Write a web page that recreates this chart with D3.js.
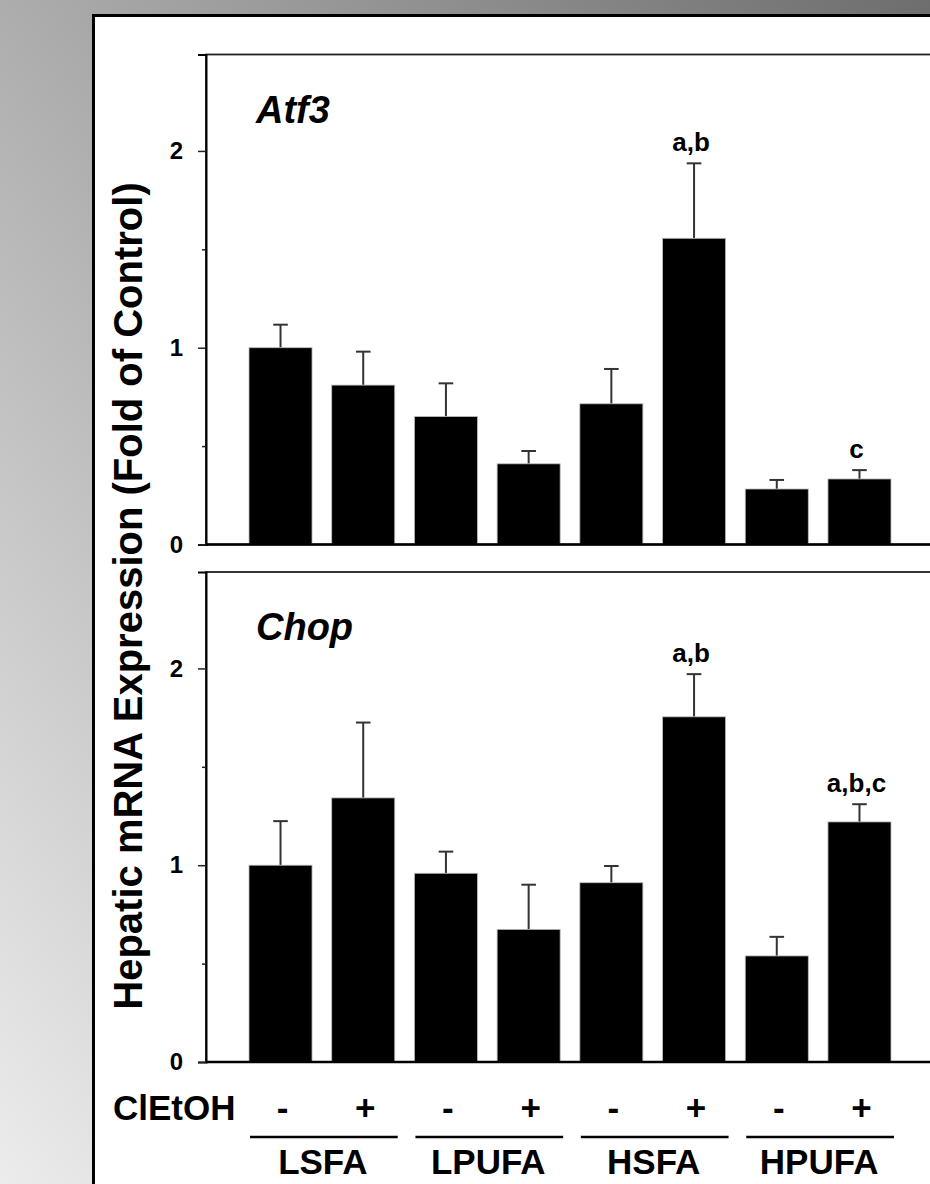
<!DOCTYPE html>
<html>
<head>
<meta charset="utf-8">
<script src="https://cdn.jsdelivr.net/npm/d3@7"></script>
<style>
  body { margin: 0; }
  svg { display: block; font-family: Arial, "Liberation Sans", sans-serif; font-weight: bold; }
</style>
</head>
<body>
<div id="chart"></div>
<script>
// groups along x, one bar per diet x treatment
const dietGroups = ['LSFA', 'LPUFA', 'HSFA', 'HPUFA'];
const treatments = ['-', '+'];
const barKeys = ['LSFA-', 'LSFA+', 'LPUFA-', 'LPUFA+', 'HSFA-', 'HSFA+', 'HPUFA-', 'HPUFA+'];

// Atf3 (fold of control), mean and upper SEM
const atf3Mean = [1.00, 0.81, 0.65, 0.41, 0.715, 1.556, 0.282, 0.333];
const atf3Err = [0.117, 0.17, 0.169, 0.065, 0.177, 0.381, 0.046, 0.045];
const atf3Sig = ['', '', '', '', '', 'a,b', '', 'c'];

// Chop (fold of control)
const chopMean = [1.00, 1.342, 0.959, 0.674, 0.911, 1.754, 0.539, 1.22];
const chopErr = [0.224, 0.383, 0.11, 0.227, 0.085, 0.217, 0.097, 0.09];
const chopSig = ['', '', '', '', '', 'a,b', '', 'a,b,c'];

const majorTicks = [0, 1, 2];
const minorTicks = [0.5, 1.5];
const yMax = 2.49;

const width = 930;
const height = 1184;
const plotLeft = 206;
const plotRight = 934;
const panelHeight = 490;
const capHalf = 7.3;

const svg = d3.select('#chart')
              .append('svg')
              .attr('width', width)
              .attr('height', height);

// grey backdrop, lighter toward bottom-left
const grad = svg.append('defs')
                .append('linearGradient')
                .attr('id', 'bg')
                .attr('x1', 0).attr('y1', 1)
                .attr('x2', 1).attr('y2', 0);
grad.append('stop').attr('offset', '0%').attr('stop-color', '#ececec');
grad.append('stop').attr('offset', '100%').attr('stop-color', '#6e6e6e');

svg.append('rect')
   .attr('width', width)
   .attr('height', height)
   .attr('fill', 'url(#bg)');

svg.append('rect')
   .attr('x', 93.5)
   .attr('y', 15.5)
   .attr('width', 900)
   .attr('height', 1200)
   .attr('fill', '#fff')
   .attr('stroke', '#000')
   .attr('stroke-width', 3);

const x = d3.scaleBand()
            .domain(barKeys)
            .range([plotLeft, plotRight])
            .paddingInner(0.238)
            .paddingOuter(0.52);

function drawPanel(top, title, means, errs, sigs) {
  const y = d3.scaleLinear()
              .domain([0, yMax])
              .range([top + panelHeight, top]);

  const g = svg.append('g');

  // frame
  g.append('rect')
   .attr('x', plotLeft)
   .attr('y', top)
   .attr('width', plotRight - plotLeft)
   .attr('height', panelHeight)
   .attr('fill', 'none')
   .attr('stroke', '#222')
   .attr('stroke-width', 1.8);

  const items = barKeys.map((k, i) => ({ key: k, mean: means[i], err: errs[i], sig: sigs[i] }));

  // error bars (upper only)
  g.append('g')
   .selectAll('line')
   .data(items)
   .enter()
   .append('line')
   .attr('x1', d => x(d.key) + x.bandwidth() / 2)
   .attr('x2', d => x(d.key) + x.bandwidth() / 2)
   .attr('y1', d => y(d.mean))
   .attr('y2', d => y(d.mean + d.err))
   .attr('stroke', '#333')
   .attr('stroke-width', 2);

  g.append('g')
   .selectAll('line')
   .data(items)
   .enter()
   .append('line')
   .attr('x1', d => x(d.key) + x.bandwidth() / 2 - capHalf)
   .attr('x2', d => x(d.key) + x.bandwidth() / 2 + capHalf)
   .attr('y1', d => y(d.mean + d.err))
   .attr('y2', d => y(d.mean + d.err))
   .attr('stroke', '#333')
   .attr('stroke-width', 2);

  g.append('g')
   .selectAll('rect')
   .data(items)
   .enter()
   .append('rect')
   .attr('x', d => x(d.key))
   .attr('y', d => y(d.mean))
   .attr('width', x.bandwidth())
   .attr('height', d => y(0) - y(d.mean))
   .attr('fill', '#000')
   .attr('stroke', '#bbb')
   .attr('stroke-width', 0.8);

  // baseline
  g.append('line')
   .attr('x1', plotLeft)
   .attr('x2', plotRight)
   .attr('y1', y(0))
   .attr('y2', y(0))
   .attr('stroke', '#000')
   .attr('stroke-width', 2.5);

  g.append('g')
   .selectAll('text')
   .data(items.filter(d => d.sig))
   .enter()
   .append('text')
   .text(d => d.sig)
   .attr('x', d => x(d.key) + x.bandwidth() / 2 - 3)
   .attr('y', d => y(d.mean + d.err) - 12)
   .attr('text-anchor', 'middle')
   .attr('font-size', 26);

  const axisMajor = d3.axisLeft(y)
                      .tickValues(majorTicks)
                      .tickFormat(d3.format('d'))
                      .tickSize(8)
                      .tickPadding(15);
  const axisMinor = d3.axisLeft(y)
                      .tickValues(minorTicks)
                      .tickFormat('')
                      .tickSize(4);

  const ax = g.append('g')
              .attr('transform', `translate(${plotLeft},0)`)
              .call(axisMajor);
  ax.select('.domain')
    .attr('stroke', '#000')
    .attr('stroke-width', 2);
  ax.selectAll('.tick line').attr('stroke', '#222').attr('stroke-width', 1.5);
  ax.selectAll('text')
    .attr('font-family', 'Arial, "Liberation Sans", sans-serif')
    .attr('font-weight', 'bold')
    .attr('font-size', 24)
    .attr('fill', '#000');

  const axm = g.append('g')
               .attr('transform', `translate(${plotLeft},0)`)
               .call(axisMinor);
  axm.select('.domain').remove();
  axm.selectAll('.tick line').attr('stroke', '#222').attr('stroke-width', 1.5);

  g.append('text')
   .text(title)
   .attr('x', 256)
   .attr('y', top + 68)
   .attr('font-size', 38)
   .attr('font-style', 'italic');

  return y;
}

drawPanel(54.5, 'Atf3', atf3Mean, atf3Err, atf3Sig);
drawPanel(572, 'Chop', chopMean, chopErr, chopSig);

// y title
svg.append('text')
   .text('Hepatic mRNA Expression (Fold of Control)')
   .attr('transform', 'translate(142,596) rotate(-90)')
   .attr('text-anchor', 'middle')
   .attr('font-size', 40);

// treatment row
svg.append('text')
   .text('ClEtOH')
   .attr('x', 113)
   .attr('y', 1120)
   .attr('font-size', 35);

svg.append('g')
   .selectAll('text')
   .data(barKeys)
   .enter()
   .append('text')
   .text((d, i) => treatments[i % 2])
   .attr('x', d => x(d) + x.bandwidth() / 2 + 2)
   .attr('y', 1120)
   .attr('text-anchor', 'middle')
   .attr('font-size', 35);

// diet group underlines and names
svg.append('g')
   .selectAll('line')
   .data(dietGroups)
   .enter()
   .append('line')
   .attr('x1', d => x(d + '-') + 1)
   .attr('x2', d => x(d + '+') + x.bandwidth() + 3)
   .attr('y1', 1137)
   .attr('y2', 1137)
   .attr('stroke', '#000')
   .attr('stroke-width', 2.5);

svg.append('g')
   .selectAll('text')
   .data(dietGroups)
   .enter()
   .append('text')
   .text(d => d)
   .attr('x', d => (x(d + '-') + x(d + '+') + x.bandwidth()) / 2 + 1)
   .attr('y', 1174)
   .attr('text-anchor', 'middle')
   .attr('font-size', 35);
</script>
</body>
</html>
